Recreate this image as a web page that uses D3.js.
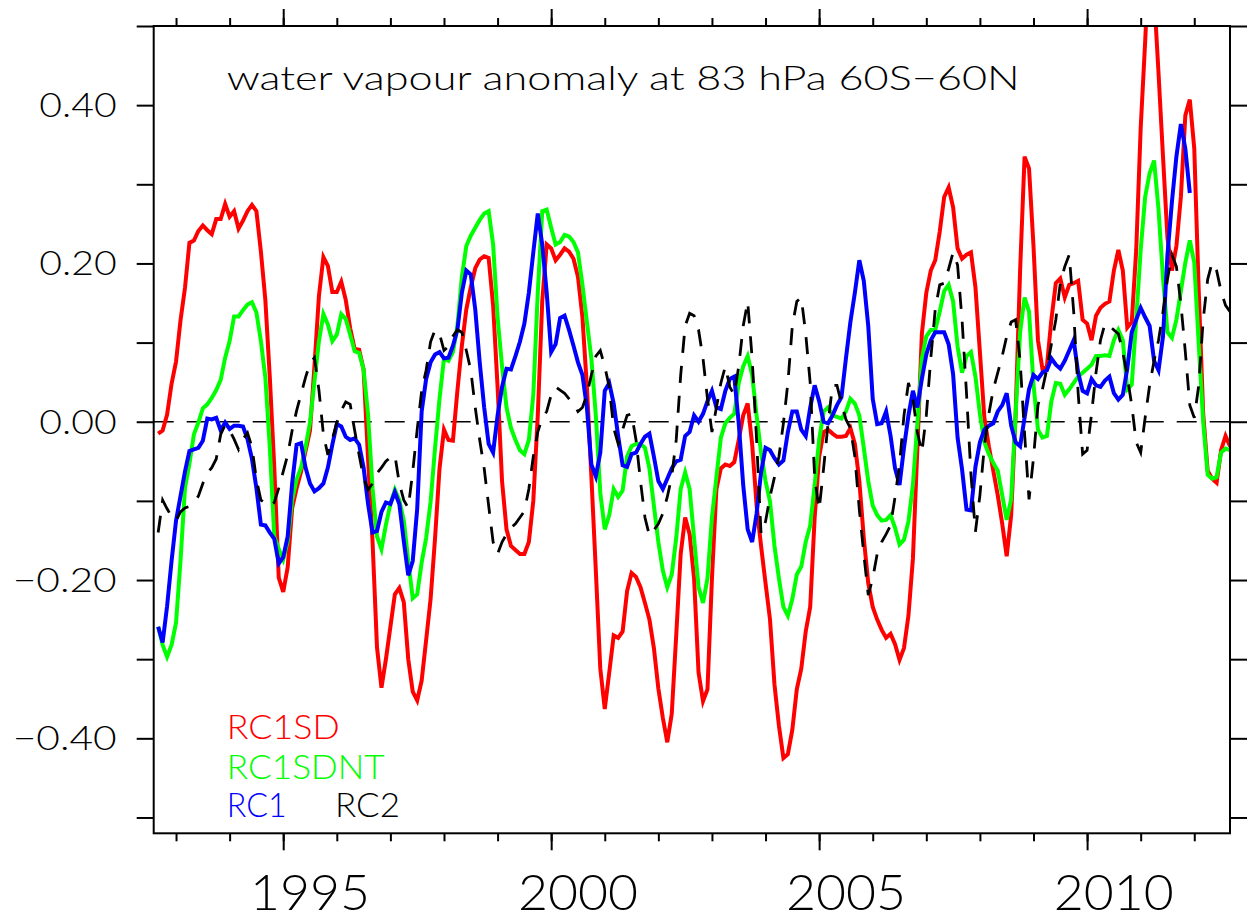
<!DOCTYPE html>
<html>
<head>
<meta charset="utf-8">
<script src="https://cdn.jsdelivr.net/npm/d3@7"></script>
<style>
body { margin: 0; background: #fff; }
text { font-family: "Lato", "DejaVu Sans", sans-serif; font-weight: 300; }
</style>
</head>
<body>
<svg id="chart"></svg>
<script>
// monthly series, first value is Sep 1992
let startYear = 1992 + 8 / 12;

let rc1sd = [
    -0.015, -0.011, 0.009, 0.048, 0.076, 0.128, 0.169, 0.226, 0.229, 0.241,
    0.248, 0.242, 0.237, 0.256, 0.256, 0.275, 0.259, 0.266, 0.244, 0.254,
    0.266, 0.274, 0.266, 0.215, 0.154, 0.056, -0.058, -0.197, -0.215, -0.184,
    -0.109, -0.084, -0.063, -0.037, -0.011, 0.071, 0.159, 0.208, 0.197, 0.164,
    0.164, 0.177, 0.154, 0.118, 0.092, 0.091, 0.066, -0.047, -0.151, -0.285,
    -0.336, -0.300, -0.259, -0.218, -0.210, -0.228, -0.300, -0.341, -0.352, -0.327,
    -0.276, -0.224, -0.147, -0.059, -0.010, -0.023, -0.024, 0.039, 0.096, 0.142,
    0.170, 0.194, 0.205, 0.209, 0.207, 0.147, 0.044, -0.075, -0.136, -0.157,
    -0.162, -0.167, -0.167, -0.152, -0.100, 0.008, 0.152, 0.224, 0.219, 0.204,
    0.211, 0.219, 0.215, 0.206, 0.183, 0.132, 0.044, -0.069, -0.188, -0.312,
    -0.363, -0.317, -0.270, -0.273, -0.265, -0.214, -0.191, -0.196, -0.209, -0.229,
    -0.250, -0.286, -0.337, -0.374, -0.405, -0.369, -0.270, -0.167, -0.121, -0.142,
    -0.198, -0.317, -0.353, -0.338, -0.198, -0.085, -0.059, -0.054, -0.056, -0.051,
    -0.023, 0.008, 0.023, -0.028, -0.106, -0.157, -0.204, -0.250, -0.332, -0.384,
    -0.425, -0.420, -0.389, -0.338, -0.312, -0.265, -0.234, -0.121, -0.044, -0.013,
    -0.010, -0.015, -0.019, -0.019, -0.018, -0.008, -0.028, -0.075, -0.147, -0.204,
    -0.234, -0.250, -0.263, -0.273, -0.268, -0.281, -0.301, -0.286, -0.245, -0.173,
    -0.033, 0.111, 0.163, 0.191, 0.204, 0.240, 0.284, 0.296, 0.271, 0.219,
    0.206, 0.211, 0.214, 0.170, 0.088, 0.005, -0.031, -0.062, -0.093, -0.129,
    -0.170, -0.118, 0.010, 0.191, 0.335, 0.320, 0.222, 0.103, 0.067, 0.070,
    0.129, 0.175, 0.181, 0.157, 0.173, 0.175, 0.178, 0.129, 0.124, 0.103,
    0.134, 0.144, 0.149, 0.152, 0.191, 0.217, 0.191, 0.119, 0.126, 0.217,
    0.371, 0.480, 0.600, 0.540, 0.440, 0.335, 0.232, 0.191, 0.222, 0.284,
    0.387, 0.407, 0.345, 0.165, 0.010, -0.062, -0.072, -0.077, -0.036, -0.018,
    -0.031
];

let rc1sdnt = [
    -0.259, -0.282, -0.297, -0.282, -0.254, -0.176, -0.084, -0.053, -0.016, -0.001,
    0.017, 0.022, 0.030, 0.040, 0.053, 0.081, 0.102, 0.133, 0.133, 0.141,
    0.148, 0.151, 0.138, 0.102, 0.056, -0.032, -0.145, -0.161, -0.174, -0.151,
    -0.099, -0.073, -0.058, -0.032, -0.001, 0.051, 0.102, 0.136, 0.123, 0.102,
    0.110, 0.136, 0.130, 0.110, 0.089, 0.087, 0.066, 0.009, -0.084, -0.145,
    -0.161, -0.130, -0.104, -0.086, -0.099, -0.125, -0.176, -0.223, -0.218, -0.178,
    -0.147, -0.101, -0.033, 0.029, 0.080, 0.077, 0.088, 0.121, 0.183, 0.222,
    0.235, 0.245, 0.255, 0.263, 0.266, 0.224, 0.132, 0.070, 0.018, -0.008,
    -0.023, -0.036, -0.041, -0.023, 0.034, 0.163, 0.266, 0.268, 0.245, 0.224,
    0.227, 0.236, 0.234, 0.227, 0.214, 0.173, 0.126, 0.080, 0.008, -0.090,
    -0.136, -0.118, -0.085, -0.095, -0.087, -0.044, -0.031, -0.028, -0.028, -0.033,
    -0.059, -0.106, -0.152, -0.188, -0.209, -0.193, -0.147, -0.085, -0.064, -0.085,
    -0.147, -0.209, -0.229, -0.198, -0.121, -0.070, -0.020, -0.002, 0.005, 0.010,
    0.049, 0.070, 0.083, 0.059, 0.008, -0.039, -0.075, -0.101, -0.157, -0.198,
    -0.234, -0.245, -0.224, -0.193, -0.183, -0.152, -0.131, -0.080, -0.023, 0.013,
    0.018, 0.008, 0.006, 0.004, 0.013, 0.029, 0.023, 0.008, -0.033, -0.075,
    -0.106, -0.118, -0.125, -0.124, -0.118, -0.134, -0.155, -0.149, -0.126, -0.080,
    -0.002, 0.080, 0.108, 0.116, 0.116, 0.139, 0.165, 0.173, 0.152, 0.095,
    0.062, 0.083, 0.088, 0.057, 0.010, -0.026, -0.041, -0.052, -0.062, -0.093,
    -0.124, -0.098, 0.010, 0.113, 0.157, 0.139, 0.047, -0.010, -0.020, -0.018,
    0.026, 0.049, 0.048, 0.034, 0.041, 0.049, 0.057, 0.062, 0.067, 0.072,
    0.083, 0.083, 0.084, 0.083, 0.103, 0.116, 0.103, 0.041, 0.047, 0.129,
    0.217, 0.284, 0.314, 0.330, 0.268, 0.181, 0.113, 0.106, 0.129, 0.165,
    0.201, 0.229, 0.201, 0.098, 0.000, -0.067, -0.072, -0.070, -0.039, -0.034,
    -0.036
];

let rc1 = [
    -0.259, -0.279, -0.233, -0.176, -0.125, -0.094, -0.063, -0.037, -0.035, -0.033,
    -0.024, 0.004, 0.003, 0.005, -0.011, -0.001, -0.009, -0.005, -0.005, -0.006,
    -0.022, -0.047, -0.084, -0.130, -0.131, -0.140, -0.148, -0.179, -0.171, -0.145,
    -0.078, -0.029, -0.027, -0.058, -0.078, -0.088, -0.084, -0.078, -0.058, -0.029,
    -0.003, -0.006, -0.019, -0.023, -0.021, -0.029, -0.058, -0.104, -0.140, -0.138,
    -0.114, -0.102, -0.104, -0.089, -0.104, -0.151, -0.194, -0.176, -0.110, 0.013,
    0.054, 0.075, 0.085, 0.088, 0.080, 0.081, 0.096, 0.116, 0.163, 0.191,
    0.186, 0.142, 0.075, 0.018, -0.028, -0.039, 0.008, 0.044, 0.067, 0.066,
    0.083, 0.101, 0.124, 0.163, 0.214, 0.263, 0.224, 0.163, 0.088, 0.098,
    0.131, 0.134, 0.116, 0.096, 0.075, 0.059, 0.018, -0.054, -0.069, -0.039,
    0.039, 0.049, 0.023, -0.018, -0.055, -0.057, -0.041, -0.039, -0.028, -0.019,
    -0.015, -0.044, -0.075, -0.085, -0.072, -0.059, -0.050, -0.048, -0.018, -0.013,
    0.008, 0.000, 0.010, 0.026, 0.039, 0.018, 0.016, 0.039, 0.054, 0.057,
    -0.002, -0.080, -0.136, -0.152, -0.116, -0.064, -0.033, -0.036, -0.046, -0.054,
    -0.049, -0.013, 0.013, 0.013, -0.010, -0.018, 0.018, 0.046, 0.026, 0.000,
    -0.002, 0.008, 0.021, 0.031, 0.080, 0.126, 0.163, 0.204, 0.178, 0.121,
    0.029, -0.003, -0.002, 0.013, -0.018, -0.059, -0.080, -0.033, 0.008, 0.039,
    0.018, 0.054, 0.085, 0.103, 0.113, 0.113, 0.113, 0.098, 0.060, -0.020,
    -0.060, -0.111, -0.112, -0.057, -0.026, -0.010, -0.005, -0.002, 0.013, 0.021,
    0.036, -0.005, -0.026, -0.031, 0.005, 0.041, 0.059, 0.054, 0.062, 0.065,
    0.080, 0.072, 0.067, 0.077, 0.090, 0.103, 0.062, 0.039, 0.036, 0.054,
    0.046, 0.044, 0.052, 0.057, 0.036, 0.028, 0.034, 0.067, 0.113, 0.129,
    0.144, 0.132, 0.121, 0.077, 0.065, 0.108, 0.211, 0.278, 0.335, 0.376,
    0.345, 0.289
];

let rc2 = [
    -0.140, -0.099, -0.110, -0.120, -0.125, -0.114, -0.109, -0.107, -0.102, -0.094,
    -0.078, -0.065, -0.058, -0.047, -0.016, -0.004, -0.011, -0.022, -0.035, -0.022,
    -0.014, -0.032, -0.073, -0.099, -0.103, -0.107, -0.102, -0.084, -0.063, -0.042,
    -0.011, 0.014, 0.035, 0.056, 0.074, 0.081, 0.040, -0.016, -0.042, -0.022,
    -0.001, 0.014, 0.025, 0.022, -0.011, -0.042, -0.071, -0.086, -0.078, -0.065,
    -0.058, -0.050, -0.045, -0.042, -0.078, -0.099, -0.109, -0.063, -0.010, 0.039,
    0.065, 0.101, 0.116, 0.111, 0.090, 0.095, 0.108, 0.116, 0.113, 0.090,
    0.065, 0.018, -0.023, -0.059, -0.106, -0.152, -0.167, -0.152, -0.142, -0.134,
    -0.129, -0.121, -0.113, -0.085, -0.044, -0.013, 0.005, 0.013, 0.034, 0.044,
    0.040, 0.036, 0.029, 0.023, 0.013, 0.018, 0.034, 0.059, 0.083, 0.090,
    0.070, 0.044, -0.008, -0.028, -0.010, 0.008, 0.010, -0.023, -0.075, -0.121,
    -0.144, -0.137, -0.129, -0.116, -0.095, -0.069, -0.023, 0.059, 0.121, 0.137,
    0.134, 0.116, 0.080, 0.029, -0.013, 0.018, 0.049, 0.070, 0.044, 0.034,
    0.070, 0.121, 0.152, 0.080, -0.023, -0.142, -0.126, -0.095, -0.070, -0.044,
    -0.002, 0.049, 0.121, 0.152, 0.157, 0.111, 0.049, -0.070, -0.111, -0.059,
    -0.002, 0.046, 0.046, 0.023, 0.003, -0.008, -0.044, -0.111, -0.167, -0.219,
    -0.198, -0.167, -0.152, -0.142, -0.131, -0.095, -0.054, 0.008, 0.049, 0.029,
    -0.013, -0.039, 0.008, 0.080, 0.142, 0.173, 0.175, 0.193, 0.214, 0.198,
    0.129, 0.036, -0.067, -0.139, -0.093, -0.031, 0.010, 0.041, 0.062, 0.083,
    0.108, 0.126, 0.129, 0.077, -0.015, -0.098, -0.046, 0.021, 0.041, 0.067,
    0.098, 0.129, 0.175, 0.196, 0.211, 0.139, 0.036, -0.041, -0.036, 0.010,
    0.062, 0.103, 0.124, 0.121, 0.116, 0.111, 0.088, 0.057, 0.021, -0.026,
    -0.039, 0.005, 0.046, 0.077, 0.103, 0.139, 0.180, 0.211, 0.196, 0.149,
    0.088, 0.021, 0.005, 0.046, 0.129, 0.180, 0.201, 0.191, 0.165, 0.147,
    0.139
];

let yearLabels = [1995, 2000, 2005, 2010];
let yearTicks = d3.range(1993, 2013);
let yLabelValues = [0.4, 0.2, 0, -0.2, -0.4];
let yTickValues = d3.range(-5, 6).map(function (d) { return d / 10; });
let title = "water vapour anomaly at 83 hPa 60S\u221260N";

let width = 1248,
    height = 921,
    plotLeft = 153.7,
    plotRight = 1230,
    plotTop = 26,
    plotBottom = 833.3;

let svg = d3.select("#chart")
    .attr("width", width)
    .attr("height", height);

let x = d3.scaleLinear()
    .domain([1992 + 7 / 12, 2012 + 8 / 12])
    .range([plotLeft, plotRight]);

let y = d3.scaleLinear()
    .domain([-0.52, 0.5])
    .range([plotBottom, plotTop]);

svg.append("defs").append("clipPath")
    .attr("id", "plot-clip")
    .append("rect")
    .attr("x", plotLeft)
    .attr("y", plotTop)
    .attr("width", plotRight - plotLeft)
    .attr("height", plotBottom - plotTop);

// axes, all ticks point outward
function styleAxis(g) {
    g.select(".domain").remove();
    g.selectAll("line").attr("stroke", "#000").attr("stroke-width", 2);
    g.selectAll("text").remove();
}

svg.append("g")
    .attr("transform", "translate(" + plotLeft + ",0)")
    .call(d3.axisLeft(y).tickValues(yTickValues).tickSize(17))
    .call(styleAxis);

svg.append("g")
    .attr("transform", "translate(" + plotRight + ",0)")
    .call(d3.axisRight(y).tickValues(yTickValues).tickSize(17))
    .call(styleAxis);

svg.append("g")
    .attr("transform", "translate(0," + plotBottom + ")")
    .call(d3.axisBottom(x).tickValues(yearTicks).tickSize(8))
    .call(styleAxis);

svg.append("g")
    .attr("transform", "translate(0," + plotBottom + ")")
    .call(d3.axisBottom(x).tickValues(yearLabels).tickSize(17))
    .call(styleAxis);

svg.append("g")
    .attr("transform", "translate(0," + plotTop + ")")
    .call(d3.axisTop(x).tickValues(yearTicks).tickSize(8))
    .call(styleAxis);

svg.append("g")
    .attr("transform", "translate(0," + plotTop + ")")
    .call(d3.axisTop(x).tickValues(yearLabels).tickSize(17))
    .call(styleAxis);

// y labels
let fmt = d3.format(".2f");
svg.append("g").selectAll("text")
    .data(yLabelValues)
    .enter().append("text")
    .attr("x", 116.7)
    .attr("y", function (d) { return y(d) + 12; })
    .attr("text-anchor", "end")
    .attr("font-size", 34)
    .attr("textLength", function (d) { return d < 0 ? 104 : 77.4; })
    .attr("lengthAdjust", "spacingAndGlyphs")
    .text(function (d) { return fmt(d); });

// year labels sit in the middle of the year
svg.append("g").selectAll("text")
    .data(yearLabels)
    .enter().append("text")
    .attr("x", function (d) { return x(d + 0.5); })
    .attr("y", 910)
    .attr("text-anchor", "middle")
    .attr("font-size", 50)
    .attr("textLength", 120)
    .attr("lengthAdjust", "spacingAndGlyphs")
    .text(function (d) { return d; });

// zero line
svg.append("line")
    .attr("x1", plotLeft)
    .attr("x2", plotRight)
    .attr("y1", y(0))
    .attr("y2", y(0))
    .attr("stroke", "#000")
    .attr("stroke-width", 1.5)
    .attr("stroke-dasharray", "20,13");

let line = d3.line()
    .x(function (d, i) { return x(startYear + i / 12); })
    .y(function (d) { return y(d); });

let series = [
    { name: "RC1SD", values: rc1sd, colour: "#ff0000", width: 4, dash: null },
    { name: "RC1SDNT", values: rc1sdnt, colour: "#00ff00", width: 4, dash: null },
    { name: "RC1", values: rc1, colour: "#0000ff", width: 4, dash: null },
    { name: "RC2", values: rc2, colour: "#000000", width: 2.8, dash: "17,13" }
];

let plot = svg.append("g").attr("clip-path", "url(#plot-clip)");

plot.selectAll("path")
    .data(series)
    .enter().append("path")
    .attr("d", function (d) { return line(d.values); })
    .attr("fill", "none")
    .attr("stroke", function (d) { return d.colour; })
    .attr("stroke-width", function (d) { return d.width; })
    .attr("stroke-linejoin", "miter")
    .attr("stroke-dasharray", function (d) { return d.dash; });

// frame
svg.append("rect")
    .attr("x", plotLeft)
    .attr("y", plotTop)
    .attr("width", plotRight - plotLeft)
    .attr("height", plotBottom - plotTop)
    .attr("fill", "none")
    .attr("stroke", "#000")
    .attr("stroke-width", 2);

// title
svg.append("text")
    .attr("x", 226.7)
    .attr("y", 90)
    .attr("font-size", 34)
    .attr("textLength", 793)
    .attr("lengthAdjust", "spacingAndGlyphs")
    .attr("fill", "#000")
    .text(title);

// legend labels
let legend = [
    { label: "RC1SD", colour: "#ff0000", x: 226.7, y: 739, len: 113 },
    { label: "RC1SDNT", colour: "#00ff00", x: 226.7, y: 779, len: 158 },
    { label: "RC1", colour: "#0000ff", x: 226.7, y: 817.3, len: 60 },
    { label: "RC2", colour: "#000000", x: 335, y: 817.3, len: 65 }
];

svg.append("g").selectAll("text")
    .data(legend)
    .enter().append("text")
    .attr("x", function (d) { return d.x; })
    .attr("y", function (d) { return d.y; })
    .attr("font-size", 34)
    .attr("textLength", function (d) { return d.len; })
    .attr("lengthAdjust", "spacingAndGlyphs")
    .attr("fill", function (d) { return d.colour; })
    .text(function (d) { return d.label; });
</script>
</body>
</html>
